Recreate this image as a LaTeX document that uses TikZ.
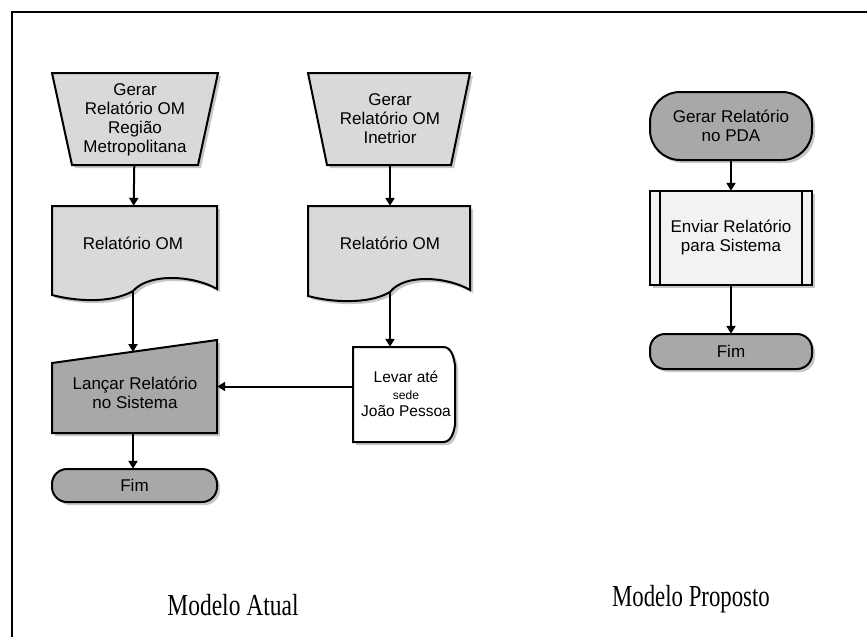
\documentclass[tikz,border=0pt]{standalone}
\usepackage{fontspec}
\setmainfont{Liberation Serif}
\newfontfamily\flowfont{Liberation Sans}
\usetikzlibrary{arrows.meta,shadows}
\definecolor{lightfill}{HTML}{D9D9D9}
\definecolor{darkfill}{HTML}{A8A8A8}
\definecolor{palefill}{HTML}{F2F2F2}
\begin{document}
\begin{tikzpicture}[x=1pt,y=-1pt,
  shp/.style={draw=black, line width=2pt, line join=miter,
    drop shadow={shadow xshift=3pt, shadow yshift=-3pt, opacity=0.22, fill=black}},
  box/.style={draw=none, inner sep=0pt, align=center,
    font=\flowfont\fontsize{17}{19}\selectfont},
  conn/.style={draw=black, line width=2pt,
    -{Triangle[length=8pt,width=9pt]}},
  caption/.style={inner sep=0pt, font=\fontsize{23.5}{28}\selectfont}
]
\useasboundingbox (0,0) rectangle (867,637);
% frame
\draw[line width=2.4pt] (12,637) -- (12,12) -- (867,12);

% ---- Modelo Atual ----
% manual operation A
\path[shp, fill=lightfill] (52,73) -- (218,73) -- (198,165) -- (72,165) -- cycle;
\node[box, minimum width=166pt, minimum height=92pt] (ga) at (135,119) {};
\node[box] (gat) at (135,120) {Gerar\\Relatório OM\\Região\\Metropolitana};
% manual operation B
\path[shp, fill=lightfill] (308,73) -- (470,73) -- (451,165) -- (327,165) -- cycle;
\node[box, minimum width=162pt, minimum height=92pt] (gb) at (390,119)
  {Gerar\\Relatório OM\\Inetrior};

% documents
\path[shp, fill=lightfill] (52,206) -- (217,206) -- (217,289)
  .. controls (195,276) and (150,272) .. (133,291)
  .. controls (110,304) and (75,301) .. (52,295) -- cycle;
\node[box, minimum width=165pt, minimum height=86pt] (d1) at (133,249) {};
\node[box] (d1t) at (133,243) {Relatório OM};
\path[shp, fill=lightfill] (308,206) -- (470,206) -- (470,290)
  .. controls (448,277) and (405,273) .. (390,292)
  .. controls (368,305) and (330,302) .. (308,296) -- cycle;
\node[box, minimum width=162pt, minimum height=86pt] (d2) at (390,249) {};
\node[box] (d2t) at (390,243) {Relatório OM};

% manual input
\path[shp, fill=darkfill] (52,363) -- (217,340) -- (217,433) -- (52,433) -- cycle;
\node[box, minimum width=165pt, minimum height=93pt] (lan) at (134.5,386.5) {};
\node[box] (lant) at (135,393) {Lançar Relatório\\no Sistema};
\coordinate (lantop) at (133,352);

% Levar
\path[shp, fill=white] (353,347) -- (443,347) to[out=0,in=100] (455,365)
  -- (455,425) to[out=-100,in=0] (443,442) -- (353,442) -- cycle;
\node[box, minimum width=102pt, minimum height=95pt] (lev) at (404,394.5) {};
\node[box, font=\flowfont\fontsize{15.5}{17}\selectfont] (levt) at (406,394)
  {Levar até\\{\fontsize{12}{17}\selectfont sede}\\João Pessoa};

% Fim 1
\path[shp, fill=darkfill, rounded corners=15pt] (52,469) rectangle (217,502);
\node[box, minimum width=165pt, minimum height=33pt] (f1) at (134.5,485.5) {Fim};

% connectors
\draw[conn] (ga) -- (d1);
\draw[conn] (gb) -- (d2);
\draw[conn] (d1) -- (lantop);
\draw[conn] (d2.south) -- (d2.south |- lev.north);
\draw[conn] (lan.east -| lev.west) -- (lan.east);
\draw[conn] (lan.south -| f1.north) ++(-1.5,0) coordinate (lb) -- (lb |- f1.north);

% ---- Modelo Proposto ----
\path[shp, fill=darkfill, rounded corners=30pt] (650,92) rectangle (812,160);
\node[box, minimum width=162pt, minimum height=68pt] (pda) at (731,126)
  {Gerar Relatório\\no PDA};
\path[shp, fill=palefill] (650,191) rectangle (812,285);
\draw[line width=2pt] (660,191) -- (660,285) (802,191) -- (802,285);
\node[box, minimum width=162pt, minimum height=94pt] (env) at (731,238)
  {Enviar Relatório\\para Sistema};
\path[shp, fill=darkfill, rounded corners=15pt] (650,334) rectangle (812,369);
\node[box, minimum width=162pt, minimum height=35pt] (f2) at (731,351.5) {Fim};

\draw[conn] (pda) -- (env);
\draw[conn] (env) -- (f2);

% captions
\node[caption] (cap1) at (233,605) {\scalebox{1}[1.3]{Modelo Atual}};
\node[caption] (cap2) at (691,599) {\scalebox{0.97}[1.3]{Modelo Proposto}};
\end{tikzpicture}
\end{document}
